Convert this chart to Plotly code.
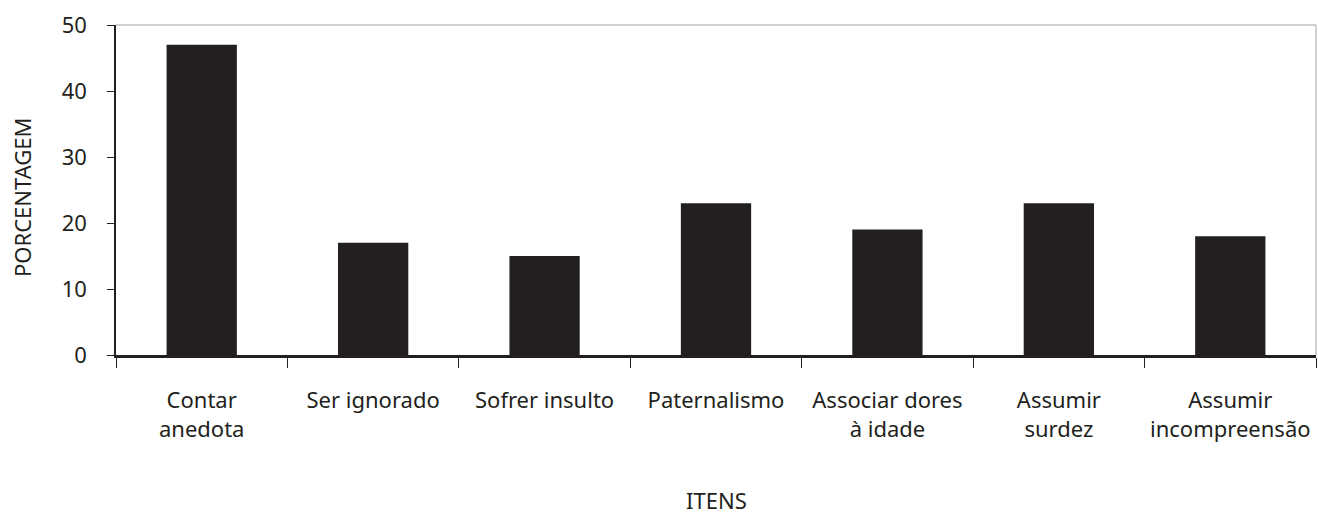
import plotly.graph_objects as go

categories = ["Contar<br>anedota", "Ser ignorado", "Sofrer insulto", "Paternalismo",
              "Associar dores<br>à idade", "Assumir<br>surdez", "Assumir<br>incompreensão"]
values = [47, 17, 15, 23, 19, 23, 18]
y_ticks = [0, 10, 20, 30, 40, 50]

TXT = "#231f20"
FONT = "Noto Sans"
FS = 22

fig = go.Figure(go.Bar(x=categories, y=values, marker=dict(color=TXT, line=dict(width=0))))

fig.update_layout(
    width=1318, height=516,
    margin=dict(l=116, r=2, t=25, b=161, autoexpand=False),
    paper_bgcolor="white", plot_bgcolor="white",
    bargap=0.59,
    showlegend=False,
    font=dict(family=FONT, size=FS, color=TXT),
    xaxis=dict(
        type="category", showgrid=False, zeroline=False,
        showline=True, linecolor=TXT, linewidth=3,
        ticks="outside", tickson="boundaries", ticklen=10, tickwidth=1.2, tickcolor=TXT,
        ticklabelstandoff=24,
        tickfont=dict(family=FONT, size=FS, color=TXT),
    ),
    yaxis=dict(
        range=[0, 50], tickvals=y_ticks, showgrid=False, zeroline=False,
        showline=True, linecolor=TXT, linewidth=1.5,
        ticks="outside", ticklen=7, tickwidth=1.2, tickcolor=TXT,
        ticklabelstandoff=16,
        tickfont=dict(family=FONT, size=FS, color=TXT),
    ),
    shapes=[
        dict(type="line", xref="paper", yref="paper", x0=0, x1=1, y0=1, y1=1,
             line=dict(color="#a0a0a0", width=1)),
        dict(type="line", xref="paper", yref="paper", x0=1, x1=1, y0=0, y1=1,
             line=dict(color="#a0a0a0", width=1)),
    ],
    annotations=[
        dict(text="PORCENTAGEM", xref="paper", yref="paper", x=-0.0788, y=0.48,
             textangle=-90, showarrow=False, font=dict(family=FONT, size=FS, color=TXT),
             xanchor="center", yanchor="middle"),
        dict(text="ITENS", xref="paper", yref="paper", x=0.5, y=-0.44,
             showarrow=False, font=dict(family=FONT, size=FS, color=TXT),
             xanchor="center", yanchor="middle"),
    ],
)

fig.write_html("out.html", config={"displayModeBar": False},
               post_script="document.body.style.margin='0';")
